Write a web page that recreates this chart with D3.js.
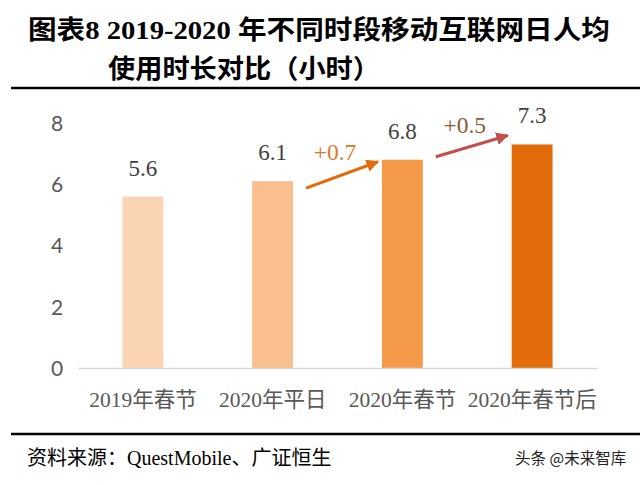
<!DOCTYPE html>
<html><head><meta charset="utf-8">
<script src="https://cdn.jsdelivr.net/npm/d3@7/dist/d3.min.js"></script>
<style>body{margin:0;background:#fff;}svg{display:block;}</style>
</head><body><svg id="c" width="640" height="485"></svg>
<script>
const categories = ["2019年春节", "2020年平日", "2020年春节", "2020年春节后"];
const values = [5.6, 6.1, 6.8, 7.3];
const barColors = ["#FBD4B4", "#F9BF8F", "#F59A48", "#E36C0A"];
const yTicks = [0, 2, 4, 6, 8];
const deltaLabels = ["+0.7", "+0.5"];
const deltaFrom = [1, 2];
const deltaTo = [2, 3];
const deltaColors = ["#E36C0A", "#C0504D"];
const deltaTextColors = ["#D9782D", "#8C5A2E"];

const svg = d3.select("#c");
const serif = "'Liberation Serif','Noto Serif CJK SC','Noto Sans CJK SC',serif";
const cjk = "'Liberation Serif','Noto Sans CJK SC',sans-serif";

// Title
svg.append("text").attr("x", 28).attr("y", 39).attr("font-family", cjk)
  .attr("font-weight", "bold").attr("font-size", 26).attr("fill", "#000")
  .attr("textLength", 582).attr("lengthAdjust", "spacingAndGlyphs")
  .text("图表8 2019-2020 年不同时段移动互联网日人均");
svg.append("text").attr("x", 108).attr("y", 78).attr("font-family", cjk)
  .attr("font-weight", "bold").attr("font-size", 26).attr("fill", "#000")
  .attr("textLength", 272).attr("lengthAdjust", "spacingAndGlyphs")
  .text("使用时长对比（小时）");
svg.append("line").attr("x1", 11).attr("x2", 640).attr("y1", 88).attr("y2", 88)
  .attr("stroke", "#000").attr("stroke-width", 2.5);
svg.append("line").attr("x1", 11).attr("x2", 640).attr("y1", 434).attr("y2", 434)
  .attr("stroke", "#000").attr("stroke-width", 2.5);

const x = d3.scaleBand().domain(categories).range([78, 597]).paddingInner(0.685).paddingOuter(0.3425);
const y = d3.scaleLinear().domain([0, 8]).range([368, 123]);

// y ticks
const yAxis = d3.axisLeft(y).tickValues(yTicks).tickSize(0).tickPadding(0);
const ga = svg.append("g").attr("transform", "translate(57,0)").call(yAxis);
ga.select(".domain").remove();
ga.selectAll("text").attr("font-family", "Lato, 'Open Sans', sans-serif").attr("font-size", 21)
  .attr("fill", "#595959").attr("text-anchor", "middle").attr("dy", "0.35em");

// bars
svg.append("g").selectAll("rect").data(values).join("rect")
  .attr("x", (d, i) => x(categories[i])).attr("width", x.bandwidth())
  .attr("y", d => y(d)).attr("height", d => y(0) - y(d))
  .attr("fill", (d, i) => barColors[i]);

// x axis
const xAxis = d3.axisBottom(x).tickSize(0).tickPadding(0);
const gx = svg.append("g").attr("transform", `translate(0,${y(0)})`).call(xAxis);
gx.select(".domain").attr("stroke", "#D9D9D9").attr("stroke-width", 1.5);
gx.selectAll("text").attr("font-family", cjk).attr("font-size", 21.5)
  .attr("fill", "#595959").attr("dy", 0).attr("y", 39);

// value labels
svg.append("g").selectAll("text").data(values).join("text")
  .attr("x", (d, i) => x(categories[i]) + x.bandwidth() / 2)
  .attr("y", d => y(d) - 21)
  .attr("text-anchor", "middle").attr("font-family", serif).attr("font-size", 23)
  .attr("fill", "#404040").text(d => d.toFixed(1));

// arrows
const defs = svg.append("defs");
deltaColors.forEach((c, i) => {
  defs.append("marker").attr("id", "ah" + i).attr("viewBox", "0 0 10 10")
    .attr("refX", 9).attr("refY", 5).attr("markerWidth", 4.2).attr("markerHeight", 4.2)
    .attr("orient", "auto").attr("markerUnits", "strokeWidth")
    .append("path").attr("d", "M0,0 L10,5 L0,10 Z").attr("fill", c);
});
const startOff = [7, -3], endOff = [2, -9];
deltaLabels.forEach((lab, i) => {
  const a = deltaFrom[i], b = deltaTo[i];
  const x1 = x(categories[a]) + x.bandwidth() + 13;
  const y1 = y(values[a]) + startOff[i];
  const x2 = x(categories[b]) - 4;
  const y2 = y(values[b]) + endOff[i];
  svg.append("line").attr("x1", x1).attr("y1", y1).attr("x2", x2).attr("y2", y2)
    .attr("stroke", deltaColors[i]).attr("stroke-width", 3)
    .attr("marker-end", `url(#ah${i})`);
  svg.append("text").attr("x", (x1 + x2) / 2 - 7).attr("y", Math.min(y1, y2) - 2)
    .attr("text-anchor", "middle").attr("font-family", serif).attr("font-size", 23.5)
    .attr("fill", deltaTextColors[i]).text(lab);
});

// source
svg.append("text").attr("x", 27).attr("y", 465).attr("font-family", cjk).attr("font-size", 20)
  .attr("fill", "#000").text("资料来源：QuestMobile、广证恒生");
svg.append("text").attr("x", 515).attr("y", 464).attr("font-family", "'Noto Sans CJK SC',sans-serif")
  .attr("font-size", 15.5).attr("fill", "#222").text("头条 @未来智库");
</script></body></html>
